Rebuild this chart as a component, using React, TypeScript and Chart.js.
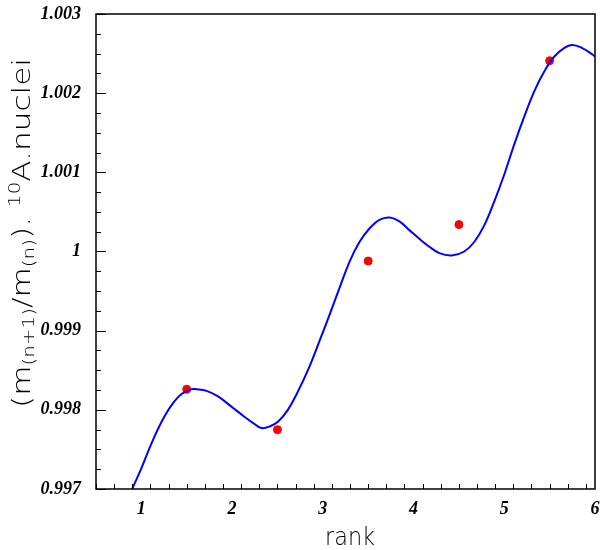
import React, { useEffect, useRef } from "react";
import { Chart, registerables } from "chart.js";

Chart.register(...registerables);

// Data points (rank, ratio)
const pointX = [1.5, 2.5, 3.5, 4.5, 5.5];
const pointY = [0.99826, 0.99775, 0.99988, 1.00034, 1.00241];

// Fitted curve samples
const curveX = [0.899, 1.003, 1.113, 1.223, 1.333, 1.443, 1.553, 1.608, 1.718, 1.845, 1.993, 2.139, 2.249, 2.323, 2.414, 2.505, 2.615, 2.725, 2.854, 2.964, 3.074, 3.184, 3.294, 3.404, 3.514, 3.624, 3.734, 3.844, 3.954, 4.064, 4.174, 4.284, 4.422, 4.559, 4.669, 4.779, 4.889, 4.999, 5.109, 5.219, 5.329, 5.439, 5.549, 5.659, 5.75, 5.86, 5.97, 6.0];
const curveY = [0.997, 0.99727, 0.99758, 0.99785, 0.99806, 0.9982, 0.99826, 0.99826, 0.99824, 0.99817, 0.99804, 0.99791, 0.99782, 0.99777, 0.99779, 0.99785, 0.998, 0.99823, 0.99855, 0.99887, 0.9992, 0.99954, 0.99987, 1.00012, 1.00029, 1.0004, 1.00043, 1.00038, 1.00027, 1.00016, 1.00006, 0.99998, 0.99995, 1.0, 1.00012, 1.00033, 1.00063, 1.00097, 1.00135, 1.0017, 1.00202, 1.00227, 1.00246, 1.00257, 1.00261, 1.00257, 1.00249, 1.00246];

const xTicks = [1, 2, 3, 4, 5, 6];
const xTickLabels = ["1", "2", "3", "4", "5", "6"];
const yTicks = [0.997, 0.998, 0.999, 1.0, 1.001, 1.002, 1.003];
const yTickLabels = ["0.997", "0.998", "0.999", "1", "1.001", "1.002", "1.003"];

const X_MIN = 0.5, X_MAX = 6, Y_MIN = 0.997, Y_MAX = 1.003;
const X_MINOR = 0.2, Y_MINOR = 0.00025;

const xTitle = "rank";
// y title pieces: [text, kind] kind: m = main, s = subscript, p = superscript
const yTitleParts: [string, string][] = [
  ["(m", "m"], ["(n+1)", "s"], ["/m", "m"], ["(n)", "s"], ["). ", "m"], ["10", "p"], ["A.nuclei", "m"],
];

const TITLE_FONT = "'DejaVu Sans', sans-serif";
const TITLE_WEIGHT = "200";

const framePlugin = {
  id: "frameTicks",
  afterDraw(chart: any) {
    const { ctx, chartArea: a, scales } = chart;
    const xs = scales.x, ys = scales.y;
    ctx.save();
    ctx.strokeStyle = "#000";
    ctx.lineWidth = 1.5;
    ctx.strokeRect(a.left, a.top, a.right - a.left, a.bottom - a.top);
    ctx.lineWidth = 1;
    for (let v = X_MIN; v <= X_MAX + 1e-9; v += X_MINOR) {
      const r = Math.round(v * 1000) / 1000;
      const major = Math.abs(r - Math.round(r)) < 1e-6;
      const px = Math.round(xs.getPixelForValue(r)) + 0.5;
      ctx.beginPath();
      ctx.moveTo(px, a.bottom);
      ctx.lineTo(px, a.bottom - (major ? 10 : 5));
      ctx.stroke();
    }
    for (let v = Y_MIN; v <= Y_MAX + 1e-9; v += Y_MINOR) {
      const r = Math.round(v * 1e6) / 1e6;
      const major = Math.abs(r * 1000 - Math.round(r * 1000)) < 1e-6;
      const py = Math.round(ys.getPixelForValue(r)) + 0.5;
      ctx.beginPath();
      ctx.moveTo(a.left, py);
      ctx.lineTo(a.left + (major ? 10 : 5), py);
      ctx.stroke();
    }
    // x title
    ctx.fillStyle = "#000";
    ctx.font = `${TITLE_WEIGHT} 25px ${TITLE_FONT}`;
    ctx.textAlign = "left";
    ctx.textBaseline = "alphabetic";
    ctx.save();
    const rw = ctx.measureText(xTitle).width;
    ctx.translate(350, 545);
    ctx.scale(50 / rw, 1);
    ctx.fillText(xTitle, -rw / 2, 0);
    ctx.restore();

    // y title, built from pieces
    const fontFor = (k: string) =>
      k === "m" ? `${TITLE_WEIGHT} 25px ${TITLE_FONT}` : `${TITLE_WEIGHT} 16px ${TITLE_FONT}`;
    let total = 0;
    const widths: number[] = [];
    for (const [t, k] of yTitleParts) {
      ctx.font = fontFor(k);
      const w = ctx.measureText(t).width;
      widths.push(w);
      total += w;
    }
    const targetLen = 350;
    ctx.save();
    ctx.translate(30, 233);
    ctx.rotate(-Math.PI / 2);
    ctx.scale(targetLen / total, 1);
    let x = -total / 2;
    yTitleParts.forEach(([t, k], i) => {
      ctx.font = fontFor(k);
      const dy = k === "s" ? 4 : k === "p" ? -10 : 0;
      ctx.fillText(t, x, dy);
      x += widths[i];
    });
    ctx.restore();
    ctx.restore();
  },
};

export default function App() {
  const ref = useRef<HTMLCanvasElement | null>(null);
  useEffect(() => {
    document.body.style.margin = "0";
    const canvas = ref.current!;
    const zeroPad = (s: any) => {
      s.paddingTop = 0; s.paddingBottom = 0; s.paddingLeft = 0; s.paddingRight = 0;
    };
    const chart = new Chart(canvas, {
      type: "scatter",
      data: {
        datasets: [
          {
            label: "fit",
            data: curveX.map((x, i) => ({ x, y: curveY[i] })),
            showLine: true,
            borderColor: "#0000ff",
            borderWidth: 2,
            pointRadius: 0,
            tension: 0.4,
            fill: false,
          },
          {
            label: "data",
            data: pointX.map((x, i) => ({ x, y: pointY[i] })),
            showLine: false,
            backgroundColor: "#ff0000",
            borderColor: "#ff0000",
            pointRadius: 4,
          },
        ],
      },
      options: {
        animation: false,
        responsive: false,
        maintainAspectRatio: false,
        clip: true,
        layout: { padding: { left: 0, right: 4, top: 14, bottom: 0 } },
        plugins: { legend: { display: false }, tooltip: { enabled: false } },
        scales: {
          x: {
            type: "linear",
            min: X_MIN,
            max: X_MAX,
            afterBuildTicks: (s: any) => { s.ticks = xTicks.map((v) => ({ value: v })); },
            afterFit: (s: any) => { s.height = 61; zeroPad(s); },
            grid: { display: false, drawTicks: false },
            border: { display: false },
            ticks: {
              padding: 10,
              color: "#000",
              font: { family: "'Liberation Serif', serif", size: 18, weight: "bold", style: "italic" },
              callback: (v: any) => { const i = xTicks.indexOf(Number(v)); return i >= 0 ? xTickLabels[i] : ""; },
            },
          },
          y: {
            type: "linear",
            min: Y_MIN,
            max: Y_MAX,
            afterBuildTicks: (s: any) => { s.ticks = yTicks.map((v) => ({ value: v })); },
            afterFit: (s: any) => { s.width = 96; zeroPad(s); },
            grid: { display: false, drawTicks: false },
            border: { display: false },
            ticks: {
              padding: 15,
              color: "#000",
              font: { family: "'Liberation Serif', serif", size: 18, weight: "bold", style: "italic" },
              callback: (v: any) => {
                const i = yTicks.findIndex((t) => Math.abs(t - Number(v)) < 1e-9);
                return i >= 0 ? yTickLabels[i] : "";
              },
            },
          },
        },
      },
      plugins: [framePlugin],
    });
    return () => chart.destroy();
  }, []);
  return (
    <div style={{ position: "absolute", left: 0, top: 0, width: 600, height: 550 }}>
      <canvas ref={ref} width={600} height={550} style={{ width: 600, height: 550 }} />
    </div>
  );
}
